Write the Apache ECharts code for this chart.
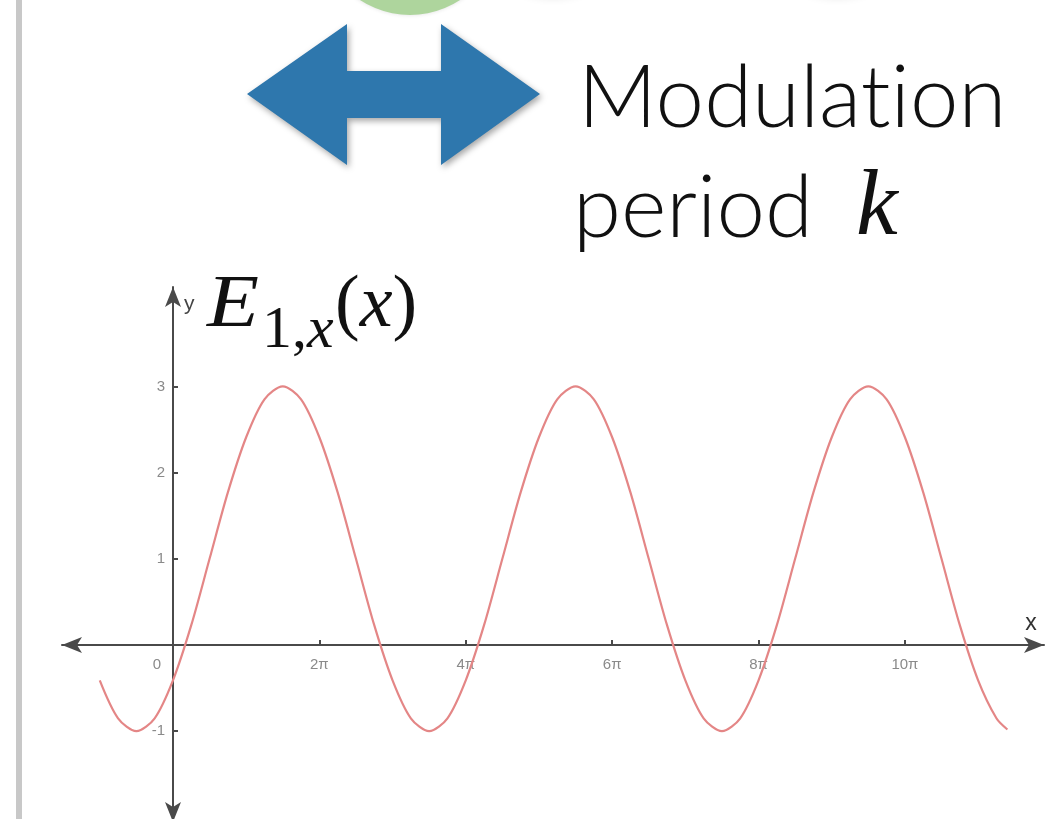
<!DOCTYPE html>
<html>
<head>
<meta charset="utf-8">
<style>
  html, body { margin: 0; padding: 0; background: #ffffff; }
  #chart { width: 1050px; height: 819px; }
</style>
<script src="https://cdn.jsdelivr.net/npm/echarts@6/dist/echarts.min.js"></script>
</head>
<body>
<div id="chart"></div>
<script>
// Sample positions along x, in multiples of π
const xPi = [
  -1, -0.75, -0.5, -0.25, 0, 0.25, 0.5, 0.75, 1, 1.25, 1.5, 1.75,
  2, 2.25, 2.5, 2.75, 3, 3.25, 3.5, 3.75, 4, 4.25, 4.5, 4.75,
  5, 5.25, 5.5, 5.75, 6, 6.25, 6.5, 6.75, 7, 7.25, 7.5, 7.75,
  8, 8.25, 8.5, 8.75, 9, 9.25, 9.5, 9.75, 10, 10.25, 10.5, 10.75,
  11, 11.25, 11.4
];
// E_{1,x}(x) at those positions
const eValues = [
  -0.41, -0.85, -1, -0.85, -0.41, 0.23, 1, 1.77, 2.41, 2.85, 3, 2.85,
  2.41, 1.77, 1, 0.23, -0.41, -0.85, -1, -0.85, -0.41, 0.23, 1, 1.77,
  2.41, 2.85, 3, 2.85, 2.41, 1.77, 1, 0.23, -0.41, -0.85, -1, -0.85,
  -0.41, 0.23, 1, 1.77, 2.41, 2.85, 3, 2.85, 2.41, 1.77, 1, 0.23,
  -0.41, -0.85, -0.98
];
// Axis tick positions and labels
const xTicks = [0, 2, 4, 6, 8, 10];
const yTicks = [-1, 1, 2, 3];

const chart = echarts.init(document.getElementById('chart'), null, { renderer: 'canvas' });

const curve = xPi.map((x, i) => [x, eValues[i]]);

const axisColor = '#4a4a4a';
const labelStyle = { color: '#8a8a8a', fontSize: 15, fontFamily: 'Liberation Sans' };

chart.setOption({
  backgroundColor: '#ffffff',
  animation: false,
  grid: { left: 62, top: 287, width: 982, height: 535, outerBoundsMode: 'none', containLabel: false },
  xAxis: {
    type: 'value',
    position: 'bottom',
    offset: -177,
    min: -1.516,
    max: 11.9,
    name: 'x',
    nameLocation: 'end',
    nameGap: -13,
    nameTextStyle: { color: '#333', fontSize: 23, fontFamily: 'Liberation Sans', align: 'center', verticalAlign: 'bottom', padding: [0, 0, 10, 0] },
    splitLine: { show: false },
    axisLine: { onZero: false, lineStyle: { color: axisColor, width: 2 }, symbol: ['arrow', 'arrow'], symbolSize: [12, 20] },
    axisTick: { customValues: xTicks, inside: true, length: 5, lineStyle: { color: axisColor, width: 2 } },
    axisLabel: {
      customValues: xTicks,
      margin: 12,
      ...labelStyle,
      formatter: v => v === 0 ? '{z|0}' : v + 'π',
      rich: { z: { ...labelStyle, padding: [0, 32, 0, 0] } }
    }
  },
  yAxis: {
    type: 'value',
    position: 'left',
    offset: -111,
    min: -2.053,
    max: 4.153,
    name: 'y',
    nameLocation: 'end',
    nameGap: -17,
    nameTextStyle: { color: '#444', fontSize: 21, fontFamily: 'Liberation Sans', align: 'left', verticalAlign: 'middle', padding: [0, 0, 0, 11] },
    splitLine: { show: false },
    axisLine: { onZero: false, lineStyle: { color: axisColor, width: 2 }, symbol: ['arrow', 'arrow'], symbolSize: [12, 20] },
    axisTick: { customValues: yTicks, inside: true, length: 5, lineStyle: { color: axisColor, width: 2 } },
    axisLabel: { customValues: yTicks, margin: 8, ...labelStyle }
  },
  series: [{
    type: 'line',
    data: curve,
    smooth: 0.3,
    symbol: 'none',
    lineStyle: { color: '#e48686', width: 2.2 },
    z: 3
  }],
  graphic: [
    // slide edge bar
    { type: 'rect', shape: { x: 16, y: 0, width: 6, height: 819 }, style: { fill: '#c8c8c8' }, silent: true },
    // circles above the arrow
    { type: 'circle', shape: { cx: 553, cy: -82, r: 80 }, style: { fill: '#ffffff', shadowBlur: 8, shadowColor: 'rgba(0,0,0,0.1)' }, silent: true },
    { type: 'circle', shape: { cx: 837, cy: -82, r: 80 }, style: { fill: '#ffffff', shadowBlur: 8, shadowColor: 'rgba(0,0,0,0.1)' }, silent: true },
    { type: 'circle', shape: { cx: 410, cy: -76, r: 91 }, style: { fill: '#aed59d', shadowBlur: 4, shadowColor: 'rgba(0,0,0,0.12)' }, silent: true },
    // double-headed arrow
    {
      type: 'polygon',
      shape: { points: [[247, 94], [347, 24], [347, 71], [441, 71], [441, 24], [540, 94], [441, 165], [441, 118], [347, 118], [347, 165]] },
      style: { fill: '#2e77ad', shadowBlur: 6, shadowOffsetX: 2, shadowOffsetY: 3, shadowColor: 'rgba(0,0,0,0.35)' },
      silent: true
    },
    // caption
    { type: 'text', x: 578, y: 99, style: { text: 'Modulat\u200Cion', font: '300 87px Lato, sans-serif', fill: '#111', verticalAlign: 'middle' }, silent: true },
    { type: 'text', x: 573, y: 209, style: { text: 'period', font: '300 87px Lato, sans-serif', fill: '#111', verticalAlign: 'middle' }, silent: true },
    { type: 'text', x: 856, y: 209, style: { text: 'k', font: 'italic 94px "Liberation Serif", serif', fill: '#111', verticalAlign: 'middle' }, silent: true },
    // function label E_{1,x}(x)
    { type: 'text', x: 207, y: 307, scaleX: 1.15, style: { text: 'E', font: 'italic 74px "Liberation Serif", serif', fill: '#111', verticalAlign: 'middle' }, silent: true },
    {
      type: 'text', x: 262, y: 331,
      style: {
        text: '{r|1,}{i|x}',
        verticalAlign: 'middle',
        rich: {
          r: { font: '60px "Liberation Serif", serif', fill: '#111' },
          i: { font: 'italic 60px "Liberation Serif", serif', fill: '#111' }
        }
      },
      silent: true
    },
    {
      type: 'text', x: 335, y: 307,
      style: {
        text: '{r|(}{i|x}{r|)}',
        verticalAlign: 'middle',
        rich: {
          r: { font: '74px "Liberation Serif", serif', fill: '#111' },
          i: { font: 'italic 74px "Liberation Serif", serif', fill: '#111' }
        }
      },
      silent: true
    }
  ]
});
</script>
</body>
</html>
